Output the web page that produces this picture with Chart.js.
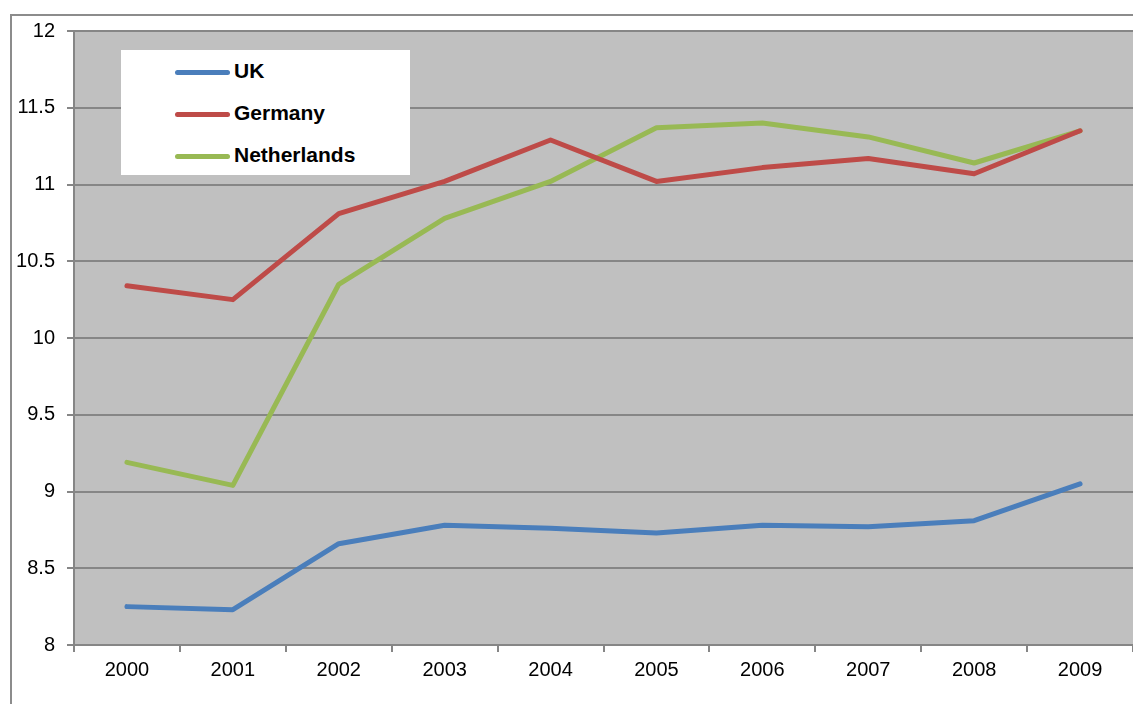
<!DOCTYPE html>
<html>
<head>
<meta charset="utf-8">
<script src="https://cdn.jsdelivr.net/npm/chart.js@4/dist/chart.umd.min.js"></script>
<style>
  html, body { margin: 0; padding: 0; background: #fff; overflow: hidden; }
  #wrap { position: relative; width: 1133px; height: 704px; }
  #legend {
    position: absolute; left: 121px; top: 50px; width: 289px; height: 125px;
    background: #fff; font: bold 21px "Liberation Sans", Arial, sans-serif; color: #000;
  }
  .item { position: absolute; left: 54px; height: 24px; line-height: 24px; white-space: nowrap; }
  .swatch { display: inline-block; width: 55px; height: 5px; border-radius: 3px; vertical-align: middle; margin-right: 4px; }
</style>
</head>
<body>
<div id="wrap">
  <canvas id="chart" width="1133" height="704"></canvas>
  <div id="legend"></div>
</div>
<script>
'use strict';

var years = ['2000', '2001', '2002', '2003', '2004', '2005', '2006', '2007', '2008', '2009'];
var ukValues = [8.25, 8.23, 8.66, 8.78, 8.76, 8.73, 8.78, 8.77, 8.81, 9.05];
var germanyValues = [10.34, 10.25, 10.81, 11.02, 11.29, 11.02, 11.11, 11.17, 11.07, 11.35];
var netherlandsValues = [9.19, 9.04, 10.35, 10.78, 11.02, 11.37, 11.40, 11.31, 11.14, 11.35];
var seriesNames = ['UK', 'Germany', 'Netherlands'];
var seriesColors = ['#4A7EBB', '#BE4B48', '#98B954'];

var gridColor = '#868686';
var font = { family: '"Liberation Sans", Arial, sans-serif', size: 20 };

// gray plot area plus the outer frame of the chart
var backdrop = {
  id: 'backdrop',
  beforeDraw: function (chart) {
    var ctx = chart.ctx, a = chart.chartArea;
    ctx.save();
    ctx.strokeStyle = '#8c8c8c';
    ctx.lineWidth = 2;
    ctx.strokeRect(11, 15, 2000, 2000);
    ctx.fillStyle = '#C0C0C0';
    ctx.fillRect(a.left, a.top, a.right - a.left, a.bottom - a.top);
    ctx.restore();
  }
};

function makeDataset(label, values, color) {
  return {
    label: label,
    data: values,
    borderColor: color,
    backgroundColor: color,
    borderWidth: 5,
    pointRadius: 0,
    tension: 0,
    borderCapStyle: 'round',
    borderJoinStyle: 'round'
  };
}

var datasets = [
  makeDataset(seriesNames[0], ukValues, seriesColors[0]),
  makeDataset(seriesNames[1], germanyValues, seriesColors[1]),
  makeDataset(seriesNames[2], netherlandsValues, seriesColors[2])
];

var chart = new Chart(document.getElementById('chart'), {
  type: 'line',
  data: { labels: years, datasets: datasets },
  options: {
    responsive: false,
    animation: false,
    layout: { padding: { top: 31, right: 0, left: 0, bottom: 0 } },
    plugins: { legend: { display: false }, tooltip: { enabled: false } },
    scales: {
      x: {
        offset: true,
        grid: { offset: true, drawOnChartArea: false, drawTicks: true, tickLength: 7, color: gridColor, lineWidth: 2 },
        border: { color: gridColor, width: 2 },
        ticks: { color: '#000', font: font, padding: 6, maxRotation: 0 },
        afterFit: function (s) { s.height = 59; }
      },
      y: {
        min: 8,
        max: 12,
        ticks: {
          stepSize: 0.5, color: '#000', font: font, padding: 12,
          callback: function (v) { return String(Math.round(v * 10) / 10); }
        },
        grid: { color: gridColor, lineWidth: 2, tickLength: 7 },
        border: { color: gridColor, width: 2 },
        afterFit: function (s) { s.width = 74; }
      }
    }
  },
  plugins: [backdrop]
});

// legend box
var legendEl = document.getElementById('legend');
datasets.forEach(function (ds, i) {
  var item = document.createElement('div');
  item.className = 'item';
  item.style.top = (9 + i * 42) + 'px';
  item.innerHTML = '<span class="swatch" style="background:' + ds.borderColor + '"></span>' + ds.label;
  legendEl.appendChild(item);
});
</script>
</body>
</html>
